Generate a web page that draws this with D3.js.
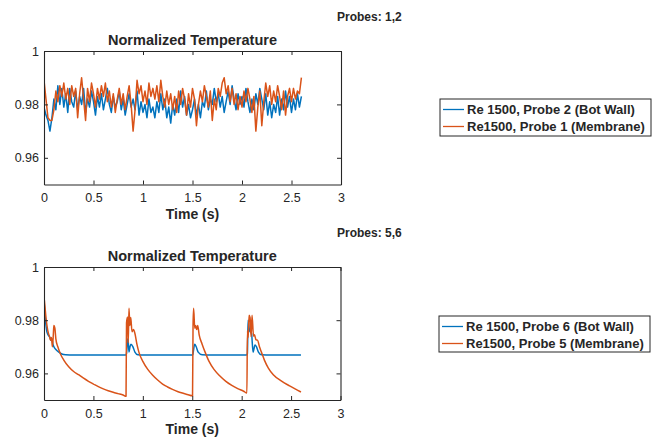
<!DOCTYPE html>
<html>
<head>
<meta charset="utf-8">
<script src="https://cdn.jsdelivr.net/npm/d3@7"></script>
<style>
  body { margin: 0; background: #fff; }
  text { font-family: "Liberation Sans", Arial, Helvetica, sans-serif; fill: #262626; }
</style>
</head>
<body>
<div id="chart"></div>
<script>
// ---- data ----
var xTicks = [0, 0.5, 1, 1.5, 2, 2.5, 3];
var yTicks = [0.96, 0.98, 1];

// top panel, probes 1 and 2, sampled every 0.02 s
var probe2Temp = [0.979, 0.976, 0.974, 0.970, 0.975, 0.982, 0.978, 0.987, 0.980, 0.986,
  0.979, 0.984, 0.977, 0.986, 0.981, 0.979, 0.985, 0.978, 0.983, 0.980,
  0.986, 0.977, 0.982, 0.979, 0.985, 0.981, 0.976, 0.983, 0.979, 0.984,
  0.978, 0.982, 0.986, 0.980, 0.977, 0.983, 0.979, 0.981, 0.985, 0.978,
  0.982, 0.976, 0.980, 0.984, 0.979, 0.982, 0.978, 0.985, 0.976, 0.981,
  0.977, 0.980, 0.975, 0.982, 0.977, 0.979, 0.975, 0.981, 0.977, 0.984,
  0.978, 0.982, 0.975, 0.979, 0.973, 0.980, 0.976, 0.982, 0.977, 0.985,
  0.979, 0.983, 0.976, 0.980, 0.975, 0.978, 0.982, 0.976, 0.980, 0.975,
  0.981, 0.979, 0.985, 0.978, 0.982, 0.980, 0.986, 0.981, 0.984, 0.979,
  0.983, 0.977, 0.981, 0.985, 0.980, 0.987, 0.982, 0.978, 0.984, 0.980,
  0.983, 0.979, 0.986, 0.981, 0.977, 0.982, 0.978, 0.984, 0.980, 0.986,
  0.982, 0.978, 0.984, 0.976, 0.981, 0.975, 0.980, 0.977, 0.983, 0.976,
  0.982, 0.978, 0.985, 0.979, 0.983, 0.977, 0.982, 0.978, 0.984, 0.979, 0.983];
var probe1Temp = [0.989, 0.982, 0.975, 0.974, 0.974, 0.978, 0.985, 0.981, 0.987, 0.983,
  0.988, 0.982, 0.986, 0.980, 0.987, 0.983, 0.986, 0.975, 0.984, 0.990,
  0.982, 0.974, 0.986, 0.981, 0.988, 0.984, 0.979, 0.986, 0.982, 0.987,
  0.983, 0.988, 0.981, 0.985, 0.979, 0.984, 0.977, 0.982, 0.986, 0.980,
  0.984, 0.978, 0.983, 0.987, 0.980, 0.970, 0.978, 0.989, 0.984, 0.987,
  0.981, 0.985, 0.980, 0.988, 0.983, 0.986, 0.982, 0.987, 0.981, 0.989,
  0.983, 0.979, 0.985, 0.980, 0.984, 0.978, 0.983, 0.977, 0.985, 0.980,
  0.986, 0.982, 0.976, 0.984, 0.979, 0.986, 0.982, 0.972, 0.980, 0.985,
  0.981, 0.987, 0.983, 0.979, 0.985, 0.974, 0.982, 0.978, 0.986, 0.983,
  0.988, 0.990, 0.984, 0.987, 0.981, 0.986, 0.980, 0.984, 0.978, 0.983,
  0.979, 0.985, 0.981, 0.986, 0.982, 0.977, 0.983, 0.970, 0.979, 0.985,
  0.972, 0.981, 0.988, 0.983, 0.987, 0.980, 0.985, 0.981, 0.987, 0.983,
  0.978, 0.985, 0.976, 0.983, 0.986, 0.981, 0.986, 0.982, 0.985, 0.984, 0.990];
var topTime = probe2Temp.map(function (d, i) { return i * 0.02; });

// bottom panel, probes 5 and 6
var probe6Time = [0, 0.01, 0.02, 0.03, 0.05, 0.06, 0.07, 0.08, 0.09, 0.10,
  0.12, 0.15, 0.18, 0.22, 0.3, 0.5, 0.7, 0.83,
  0.835, 0.845, 0.85, 0.86, 0.87, 0.88, 0.9, 0.92, 0.95, 1.0,
  1.2, 1.4, 1.505, 1.512, 1.525, 1.54, 1.56, 1.6, 1.7, 1.9,
  2.05, 2.058, 2.065, 2.08, 2.1, 2.115, 2.135, 2.15, 2.17, 2.2,
  2.3, 2.45, 2.6];
var probe6Temp = [0.988, 0.982, 0.978, 0.9755, 0.974, 0.9735, 0.9725, 0.973, 0.971, 0.970,
  0.969, 0.968, 0.9673, 0.967, 0.9669, 0.9669, 0.9669, 0.9669,
  0.9675, 0.9725, 0.973, 0.968, 0.970, 0.971, 0.970, 0.968, 0.967, 0.9669,
  0.9669, 0.9669, 0.9669, 0.9685, 0.971, 0.970, 0.968, 0.967, 0.9669, 0.9669,
  0.9669, 0.9675, 0.980, 0.976, 0.975, 0.968, 0.9707, 0.970, 0.968, 0.967,
  0.9669, 0.9669, 0.9669];
var probe5Time = [0, 0.01, 0.02, 0.03, 0.045, 0.055, 0.065, 0.075, 0.085, 0.095,
  0.10, 0.11, 0.12, 0.14, 0.17, 0.2, 0.25, 0.3, 0.35, 0.4,
  0.45, 0.5, 0.55, 0.6, 0.65, 0.7, 0.75, 0.8, 0.83,
  0.835, 0.845, 0.852, 0.86, 0.868, 0.878, 0.89, 0.905, 0.92, 0.94,
  0.96, 1.0, 1.05, 1.1, 1.15, 1.2, 1.25, 1.3, 1.35, 1.4, 1.45, 1.503,
  1.508, 1.514, 1.525, 1.535, 1.545, 1.555, 1.57, 1.6, 1.63, 1.67,
  1.72, 1.78, 1.84, 1.9, 1.96, 2.02, 2.053,
  2.058, 2.066, 2.075, 2.085, 2.095, 2.105, 2.12, 2.13, 2.145, 2.16,
  2.18, 2.2, 2.23, 2.27, 2.32, 2.4, 2.48, 2.55, 2.6];
var probe5Temp = [0.989, 0.985, 0.981, 0.978, 0.975, 0.974, 0.9725, 0.9735, 0.970, 0.975,
  0.978, 0.977, 0.973, 0.970, 0.967, 0.965, 0.9625, 0.9607, 0.9595, 0.9582,
  0.9570, 0.9560, 0.9550, 0.9542, 0.9535, 0.9529, 0.9524, 0.9519, 0.9514,
  0.979, 0.9812, 0.9715, 0.9845, 0.978, 0.981, 0.9757, 0.9765, 0.975, 0.971,
  0.968, 0.9645, 0.9615, 0.9593, 0.9575, 0.956, 0.9549, 0.954, 0.9532, 0.9526, 0.9521, 0.9516,
  0.978, 0.9845, 0.977, 0.978, 0.9765, 0.978, 0.9745, 0.971, 0.968, 0.9645,
  0.9615, 0.959, 0.957, 0.9555, 0.9543, 0.9533, 0.9526,
  0.976, 0.9735, 0.9819, 0.981, 0.9738, 0.9819, 0.974, 0.9745, 0.9726, 0.9725,
  0.970, 0.968, 0.965, 0.962, 0.9595, 0.9572, 0.9554, 0.9540, 0.9530];

var panels = [
  {
    probes: "Probes: 1,2",
    box: { left: 44, right: 341, top: 51, bottom: 184.5 },
    legendBox: { x: 440, y: 99, w: 211, h: 37 },
    series: [
      { name: "Re 1500, Probe 2 (Bot Wall)", t: topTime, v: probe2Temp, color: "#0072BD" },
      { name: "Re1500, Probe 1 (Membrane)", t: topTime, v: probe1Temp, color: "#D95319" }
    ],
    curve: d3.curveLinear
  },
  {
    probes: "Probes: 5,6",
    box: { left: 44, right: 340.5, top: 267, bottom: 400 },
    legendBox: { x: 439, y: 316, w: 211, h: 36 },
    series: [
      { name: "Re 1500, Probe 6 (Bot Wall)", t: probe6Time, v: probe6Temp, color: "#0072BD" },
      { name: "Re1500, Probe 5 (Membrane)", t: probe5Time, v: probe5Temp, color: "#D95319" }
    ],
    curve: d3.curveMonotoneX
  }
];

var svg = d3.select("#chart").append("svg")
  .attr("width", 662)
  .attr("height", 440);

panels.forEach(drawPanel);

function drawPanel(p) {
  var b = p.box;
  var x = d3.scaleLinear().domain([0, 3]).range([b.left, b.right]);
  var y = d3.scaleLinear().domain([0.95, 1]).range([b.bottom, b.top]);
  var fmt = function (d) { return String(+d.toFixed(2)); };

  var g = svg.append("g");

  // series first, axes box on top
  var clipId = "clip" + Math.round(b.top);
  g.append("clipPath").attr("id", clipId).append("rect")
    .attr("x", b.left).attr("y", b.top)
    .attr("width", b.right - b.left).attr("height", b.bottom - b.top);

  p.series.forEach(function (s) {
    var line = d3.line()
      .x(function (d, i) { return x(s.t[i]); })
      .y(function (d) { return y(d); })
      .curve(p.curve);
    g.append("path")
      .attr("clip-path", "url(#" + clipId + ")")
      .attr("d", line(s.v))
      .attr("fill", "none")
      .attr("stroke", s.color)
      .attr("stroke-width", 1.5)
      .attr("stroke-linejoin", "round");
  });

  var axes = [
    { gen: d3.axisBottom(x).tickValues(xTicks).tickFormat(fmt), tr: "translate(0," + b.bottom + ")", pad: 9 },
    { gen: d3.axisTop(x).tickValues(xTicks).tickFormat(""), tr: "translate(0," + b.top + ")", pad: 0 },
    { gen: d3.axisLeft(y).tickValues(yTicks).tickFormat(fmt), tr: "translate(" + b.left + ",0)", pad: 5 },
    { gen: d3.axisRight(y).tickValues(yTicks).tickFormat(""), tr: "translate(" + b.right + ",0)", pad: 0 }
  ];
  axes.forEach(function (a) {
    var ax = g.append("g")
      .attr("transform", a.tr)
      .call(a.gen.tickSizeInner(-4).tickSizeOuter(0).tickPadding(a.pad));
    ax.select(".domain").attr("stroke", "#262626").attr("stroke-width", 1.1);
    ax.selectAll(".tick line").attr("stroke", "#262626").attr("stroke-width", 1);
    ax.selectAll(".tick text")
      .style("font-family", "'Liberation Sans', Arial, sans-serif")
      .style("font-size", "12.5px")
      .attr("fill", "#262626");
  });

  var cx = (b.left + b.right) / 2;
  g.append("text")
    .attr("x", cx).attr("y", b.top - 6)
    .attr("text-anchor", "middle")
    .style("font-size", "14.5px").style("font-weight", "bold")
    .text("Normalized Temperature");

  g.append("text")
    .attr("x", cx).attr("y", b.bottom + 34)
    .attr("text-anchor", "middle")
    .style("font-size", "14px").style("font-weight", "bold")
    .text("Time (s)");

  g.append("text")
    .attr("x", 337).attr("y", b.top - 30)
    .style("font-size", "12px").style("font-weight", "bold")
    .text(p.probes);

  // legend
  var L = p.legendBox;
  var lg = svg.append("g").attr("transform", "translate(" + L.x + "," + L.y + ")");
  lg.append("rect")
    .attr("width", L.w).attr("height", L.h)
    .attr("fill", "#fff")
    .attr("stroke", "#262626")
    .attr("stroke-width", 1);
  p.series.forEach(function (s, i) {
    var ry = 10.5 + i * 17;
    lg.append("line")
      .attr("x1", 3).attr("x2", 24)
      .attr("y1", ry).attr("y2", ry)
      .attr("stroke", s.color)
      .attr("stroke-width", 1.3);
    lg.append("text")
      .attr("x", 27).attr("y", ry)
      .attr("dy", "0.36em")
      .style("font-size", "13px").style("font-weight", "bold")
      .text(s.name);
  });
}
</script>
</body>
</html>
